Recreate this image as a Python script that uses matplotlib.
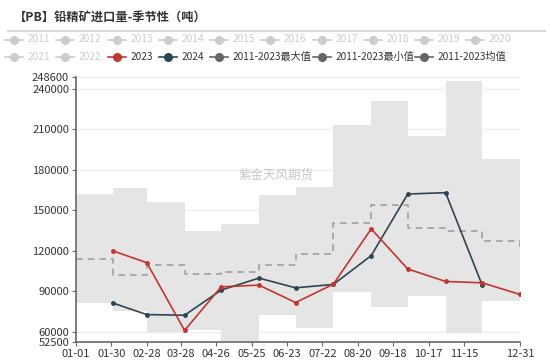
import pandas as pd
import matplotlib
matplotlib.use("Agg")
import matplotlib.pyplot as plt
from matplotlib.lines import Line2D

plt.rcParams['font.family'] = ['Noto Sans CJK SC', 'DejaVu Sans']

# 数据（吨）
month_ends = ["01-31", "02-28", "03-31", "04-30", "05-31", "06-30",
              "07-31", "08-31", "09-30", "10-31", "11-30", "12-31"]
y2023 = [120000, 111200, 61100, 93300, 94600, 81700,
         95300, 136200, 106500, 97300, 96300, 87700]
y2024 = [81400, 72800, 72300, 90900, 99800, 92600,
         95100, 116400, 162000, 163000, 94600]

# 季节性区间（阶梯），起点 01-01
step_dates = ["01-01"] + month_ends
hist_max = [162300, 166700, 156100, 135000, 139700, 161000,
            167300, 213400, 230900, 204700, 245300, 188100, 188100]
hist_min = [81000, 75500, 59700, 61100, 53200, 72300,
            62800, 89600, 78400, 86600, 59400, 82900, 82900]
hist_mean = [114000, 102000, 109500, 102800, 104000, 109500,
             117400, 140700, 153600, 137200, 135000, 127100, 119400]

tick_labels = ["01-01", "01-30", "02-28", "03-28", "04-26", "05-25", "06-23",
               "07-22", "08-20", "09-18", "10-17", "11-15", "12-31"]
y_ticks = [52500, 60000, 90000, 120000, 150000, 180000, 210000, 240000, 248600]

legend_grey = ["2011", "2012", "2013", "2014", "2015", "2016", "2017",
               "2018", "2019", "2020", "2021", "2022"]


def to_date(s):
    return pd.to_datetime("2023-" + s)


xd = [to_date(s) for s in month_ends]
xs = [to_date(s) for s in step_dates]

fig = plt.figure(figsize=(5.5, 3.62), dpi=100)
ax = fig.add_axes([76 / 550, 20 / 362, 444 / 550, 265 / 362])

red = "#c23531"
navy = "#2f4554"

ax.fill_between(xs, hist_min, hist_max, step="post", color="#e5e5e5", lw=0, zorder=1)
ax.step(xs, hist_mean, where="post", color="#a0a0a0", lw=1.2, ls=(0, (4, 3)), zorder=2)
ax.plot(xd, y2023, color=red, lw=1.2, marker="o", ms=2.5, zorder=4)
ax.plot(xd[:len(y2024)], y2024, color=navy, lw=1.2, marker="o", ms=2.5, zorder=3)

ax.set_xlim(to_date("01-01"), to_date("12-31"))
ax.set_ylim(52500, 248600)
ax.set_xticks([to_date(s) for s in tick_labels])
ax.set_xticklabels(tick_labels)
ax.set_yticks(y_ticks)
ax.set_yticklabels([str(v) for v in y_ticks])
ax.tick_params(axis="both", labelsize=8, colors="#333333", length=3, width=0.8, pad=2)
ax.tick_params(axis="both", color="#666666")

for v in y_ticks:
    ax.axhline(v, color="#eeeeee", lw=1, zorder=0)

for s in ["top", "right"]:
    ax.spines[s].set_visible(False)
for s in ["left", "bottom"]:
    ax.spines[s].set_color("#666666")
    ax.spines[s].set_linewidth(1.2)

# 水印
ax.text(0.45, 0.63, "紫金天风期货", transform=ax.transAxes, fontsize=9,
        color="#c8c8c8", ha="center", va="center", zorder=0)

# 标题
fig.text(14 / 550, 1 - 17 / 362, "【PB】铅精矿进口量-季节性（吨）", fontsize=8.8,
         fontweight="bold", color="#333333", va="center", ha="left")
fig.add_artist(Line2D([8 / 550, 545 / 550], [1 - 31 / 362, 1 - 31 / 362],
                      color="#d8d8d8", lw=1.5, transform=fig.transFigure))

# 图例
items = [(lab, "#cccccc", "#cccccc") for lab in legend_grey]
items += [("2023", red, "#333333"), ("2024", navy, "#333333"),
          ("2011-2023最大值", "#666666", "#333333"),
          ("2011-2023最小值", "#666666", "#333333"),
          ("2011-2023均值", "#666666", "#333333")]
text_x = [28, 79, 131, 182, 233, 284, 336, 387, 438, 489,
          28, 79, 131, 182, 233, 336, 438]
for i, (lab, mc, tc) in enumerate(items):
    row_y = 39.5 if i < 10 else 57
    tx = text_x[i]
    yy = 1 - row_y / 362
    fig.add_artist(Line2D([(tx - 23) / 550, (tx - 5) / 550], [yy, yy], color=mc, lw=1.2,
                          transform=fig.transFigure))
    fig.add_artist(Line2D([(tx - 14) / 550], [yy], color=mc, marker="o", ms=5.5,
                          transform=fig.transFigure))
    fig.text(tx / 550, yy, lab, fontsize=7.3, color=tc, va="center", ha="left")

fig.savefig("out.png", dpi=100, facecolor="white")
